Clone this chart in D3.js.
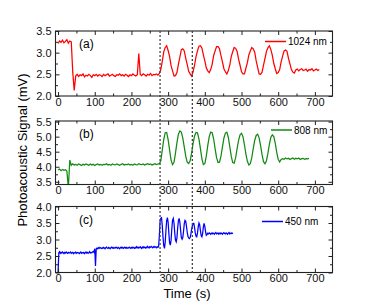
<!DOCTYPE html>
<html>
<head>
<meta charset="utf-8">
<script src="https://cdn.jsdelivr.net/npm/d3@7"></script>
<style>
body { margin: 0; background: #fff; }
svg text { font-family: Arial, "Liberation Sans", sans-serif; }
</style>
</head>
<body>
<div id="chart"></div>
<script>
// signals, one value every `step` seconds starting at t = 0
var sig1024 = [
  3.21, 3.27, 3.24, 3.29, 3.23, 3.26, 3.30, 3.22, 3.27, 3.25,   // 0
  2.55, 2.13, 2.46, 2.50, 2.45, 2.49, 2.47, 2.51, 2.44, 2.48,   // 40
  2.46, 2.50, 2.47, 2.43, 2.49, 2.47, 2.50, 2.46, 2.49, 2.48,   // 80
  2.45, 2.50, 2.47, 2.49, 2.51, 2.46, 2.48, 2.50, 2.47, 2.45,   // 120
  2.49, 2.48, 2.51, 2.47, 2.49, 2.46, 2.50, 2.48, 2.45, 2.49,   // 160
  2.47, 2.51, 2.48, 2.46, 2.49, 2.98, 2.50, 2.47, 2.51, 2.49,   // 200
  2.46, 2.50, 2.48, 2.52, 2.47, 2.50, 2.49, 2.51, 2.48, 2.52,   // 240
  2.61, 2.80, 3.02, 3.12, 3.16, 3.05, 2.91, 2.70, 2.58, 2.46,   // 280
  2.47, 2.54, 2.73, 2.90, 3.07, 3.09, 3.04, 2.87, 2.73, 2.57,   // 320
  2.51, 2.46, 2.56, 2.71, 2.91, 3.04, 3.15, 3.16, 3.11, 2.95,   // 360
  2.81, 2.65, 2.58, 2.54, 2.61, 2.73, 2.93, 3.04, 3.14, 3.14,   // 400
  3.09, 2.93, 2.79, 2.63, 2.56, 2.51, 2.59, 2.71, 2.91, 3.02,   // 440
  3.12, 3.10, 3.03, 2.85, 2.71, 2.56, 2.51, 2.51, 2.64, 2.77,   // 480
  2.95, 3.04, 3.12, 3.09, 3.01, 2.81, 2.66, 2.51, 2.50, 2.55,   // 520
  2.71, 2.87, 3.03, 3.11, 3.16, 3.07, 2.94, 2.75, 2.63, 2.52,   // 560
  2.54, 2.61, 2.79, 2.92, 3.04, 3.06, 3.03, 2.87, 2.74, 2.61,   // 600
  2.55, 2.53, 2.60, 2.62, 2.58, 2.61, 2.63, 2.59, 2.60, 2.62,   // 640
  2.57, 2.61, 2.60, 2.63, 2.58, 2.60, 2.62, 2.59, 2.61          // 680
];
var sig808 = [
  3.89, 3.92, 3.87, 3.91, 3.88, 3.90, 3.86, 3.30, 4.22, 4.05,   // 0
  4.10, 4.06, 4.08, 4.05, 4.09, 4.07, 4.04, 4.08, 4.06, 4.09,   // 40
  4.07, 4.05, 4.09, 4.06, 4.08, 4.04, 4.07, 4.09, 4.06, 4.08,   // 80
  4.05, 4.08, 4.07, 4.10, 4.06, 4.08, 4.05, 4.09, 4.07, 4.06,   // 120
  4.09, 4.07, 4.05, 4.08, 4.10, 4.06, 4.08, 4.07, 4.09, 4.06,   // 160
  4.08, 4.05, 4.09, 4.07, 4.06, 4.10, 4.08, 4.07, 4.09, 4.06,   // 200
  4.08, 4.10, 4.07, 4.09, 4.06, 4.08, 4.10, 4.07, 4.09, 4.10,   // 240
  4.20, 4.55, 4.90, 5.13, 5.14, 4.90, 4.55, 4.22, 4.07, 4.15,   // 280
  4.45, 4.80, 5.08, 5.19, 5.15, 4.95, 4.65, 4.35, 4.15, 4.11,   // 320
  4.20, 4.45, 4.78, 5.02, 5.14, 5.13, 4.92, 4.60, 4.27, 4.07,   // 360
  4.10, 4.35, 4.70, 5.00, 5.15, 5.13, 4.93, 4.60, 4.30, 4.14,   // 400
  4.15, 4.35, 4.65, 4.95, 5.12, 5.15, 4.98, 4.67, 4.35, 4.14,   // 440
  4.12, 4.30, 4.60, 4.88, 5.06, 5.11, 5.00, 4.73, 4.42, 4.18,   // 480
  4.06, 4.10, 4.30, 4.60, 4.88, 5.04, 5.08, 4.96, 4.70, 4.40,   // 520
  4.17, 4.10, 4.20, 4.45, 4.75, 4.98, 5.06, 5.00, 4.78, 4.48,   // 560
  4.25, 4.16, 4.24, 4.27, 4.25, 4.29, 4.26, 4.28, 4.24, 4.27,   // 600
  4.29, 4.25, 4.28, 4.26, 4.29, 4.24, 4.27, 4.28, 4.25, 4.27,   // 640
  4.26, 4.28                                                    // 680
];
var sig450 = [
  2.00, 2.60, 2.63, 2.58, 2.61, 2.59, 2.62, 2.60, 2.57, 2.61,   // 0
  2.59, 2.62, 2.60, 2.58, 2.61, 2.59, 2.60, 2.62, 2.58, 2.60,   // 20
  2.61, 2.57, 2.60, 2.59, 2.62, 2.58, 2.60, 2.61, 2.59, 2.57,   // 40
  2.60, 2.62, 2.58, 2.60, 2.59, 2.61, 2.57, 2.60, 2.62, 2.59,   // 60
  2.61, 2.58, 2.60, 2.63, 2.59, 2.61, 2.60, 2.62, 2.64, 2.61,   // 80
  2.72, 2.20, 2.71, 2.74, 2.72, 2.75, 2.73, 2.76, 2.74, 2.73,   // 100
  2.75, 2.73, 2.76, 2.74, 2.72, 2.75, 2.77, 2.74, 2.73, 2.76,   // 120
  2.74, 2.72, 2.75, 2.77, 2.74, 2.76, 2.73, 2.75, 2.74, 2.77,   // 140
  2.75, 2.73, 2.76, 2.74, 2.72, 2.75, 2.77, 2.74, 2.76, 2.73,   // 160
  2.75, 2.77, 2.74, 2.76, 2.73, 2.75, 2.74, 2.77, 2.75, 2.73,   // 180
  2.76, 2.74, 2.77, 2.75, 2.73, 2.76, 2.74, 2.78, 2.75, 2.77,   // 200
  2.74, 2.76, 2.78, 2.75, 2.73, 2.77, 2.75, 2.78, 2.76, 2.74,   // 220
  2.77, 2.75, 2.79, 2.76, 2.74, 2.78, 2.76, 2.79, 2.77, 2.75,   // 240
  2.78, 2.76, 2.79, 2.77, 2.75, 2.78, 2.76, 2.79, 3.10, 3.55,   // 260
  3.64, 3.66, 3.42, 3.08, 2.82, 2.73, 2.92, 3.28, 3.57, 3.66,   // 280
  3.52, 3.18, 2.90, 2.83, 2.98, 3.32, 3.58, 3.64, 3.50, 3.20,   // 300
  2.98, 2.93, 3.05, 3.35, 3.57, 3.64, 3.52, 3.28, 3.06, 3.01,   // 320
  3.06, 3.25, 3.48, 3.58, 3.55, 3.40, 3.22, 3.10, 3.05, 3.03,   // 340
  3.06, 3.16, 3.30, 3.42, 3.49, 3.49, 3.36, 3.20, 3.10, 3.08,   // 360
  3.20, 3.38, 3.50, 3.44, 3.27, 3.12, 3.08, 3.18, 3.38, 3.49,   // 380
  3.40, 3.24, 3.13, 3.15, 3.19, 3.17, 3.20, 3.18, 3.16, 3.19,   // 400
  3.17, 3.20, 3.18, 3.16, 3.19, 3.21, 3.17, 3.18, 3.20, 3.16,   // 420
  3.19, 3.17, 3.20, 3.18, 3.16, 3.19, 3.21, 3.18, 3.17, 3.20,   // 440
  3.18, 3.16, 3.19, 3.21, 3.17, 3.19, 3.18, 3.20, 3.17          // 460
];

var xTicks = [0, 100, 200, 300, 400, 500, 600, 700];
var xMinor = [50, 150, 250, 350, 450, 550, 650];
var markTimes = [278, 366];   // dotted guide lines

var width = 370, height = 307;
var left = 55.5, right = 332.5;

var svg = d3.select("#chart")
    .append("svg")
    .attr("width", width)
    .attr("height", height);

var x = d3.scaleLinear().domain([-7, 748]).range([left, right]);

var panels = [
  { tag: "(a)", name: "1024 nm", color: "#ff0000", values: sig1024, step: 4,
    top: 31, bottom: 96, domain: [2, 3.5], lx: 265, ly: 41.5 },
  { tag: "(b)", name: "808 nm", color: "#138a13", values: sig808, step: 4,
    top: 121, bottom: 184.5, domain: [3.41, 5.52], lx: 271, ly: 130 },
  { tag: "(c)", name: "450 nm", color: "#0000ff", values: sig450, step: 2,
    top: 206.5, bottom: 272.5, domain: [2, 4], lx: 262, ly: 221.5 }
];

var fmt = d3.format(".1f");

panels.forEach(function(p, i) {
  var y = d3.scaleLinear().domain(p.domain).range([p.bottom, p.top]);
  var yMajor = d3.range(Math.ceil(p.domain[0] * 2) / 2, p.domain[1] + 0.001, 0.5);
  var yMinor = d3.range(Math.ceil(p.domain[0] * 4) / 4, p.domain[1] + 0.001, 0.25)
      .filter(function(v) { return Math.abs(v * 2 - Math.round(v * 2)) > 0.01; });

  var g = svg.append("g");

  g.append("clipPath").attr("id", "clip" + i)
    .append("rect")
    .attr("x", left).attr("y", p.top)
    .attr("width", right - left).attr("height", p.bottom - p.top);

  var line = d3.line()
    .x(function(d, k) { return x(k * p.step); })
    .y(function(d) { return y(d); });

  g.append("path")
    .datum(p.values)
    .attr("clip-path", "url(#clip" + i + ")")
    .attr("fill", "none")
    .attr("stroke", p.color)
    .attr("stroke-width", 1.25)
    .attr("d", line);

  // ticks on all four sides, pointing inward
  function addAxis(axis, tx, ty, labels) {
    var a = g.append("g").attr("transform", "translate(" + tx + "," + ty + ")").call(axis);
    a.select(".domain").remove();
    a.selectAll("line").attr("stroke", "#222");
    if (!labels) a.selectAll("text").remove();
    else a.selectAll("text").attr("font-size", 11).attr("fill", "#111");
    return a;
  }
  addAxis(d3.axisBottom(x).tickValues(xTicks).tickSize(-4).tickPadding(2).tickFormat(d3.format("d")), 0, p.bottom, true);
  addAxis(d3.axisBottom(x).tickValues(xMinor).tickSize(-2.5), 0, p.bottom, false);
  addAxis(d3.axisTop(x).tickValues(xTicks).tickSize(-4), 0, p.top, false);
  addAxis(d3.axisTop(x).tickValues(xMinor).tickSize(-2.5), 0, p.top, false);
  addAxis(d3.axisLeft(y).tickValues(yMajor).tickSize(-4).tickPadding(4).tickFormat(fmt), left, 0, true);
  addAxis(d3.axisLeft(y).tickValues(yMinor).tickSize(-2.5), left, 0, false);
  addAxis(d3.axisRight(y).tickValues(yMajor).tickSize(-4), right, 0, false);
  addAxis(d3.axisRight(y).tickValues(yMinor).tickSize(-2.5), right, 0, false);

  g.append("rect")
    .attr("x", left).attr("y", p.top)
    .attr("width", right - left).attr("height", p.bottom - p.top)
    .attr("fill", "none")
    .attr("stroke", "#222")
    .attr("stroke-width", 1.1);

  g.append("text")
    .attr("x", 79).attr("y", p.top + 17)
    .attr("font-size", 12)
    .text(p.tag);

  // legend
  g.append("line")
    .attr("x1", p.lx).attr("x2", p.lx + 21)
    .attr("y1", p.ly).attr("y2", p.ly)
    .attr("stroke", p.color)
    .attr("stroke-width", 1.5);
  g.append("text")
    .attr("x", p.lx + 23).attr("y", p.ly + 3.5)
    .attr("font-size", 10)
    .text(p.name);
});

svg.selectAll(".mark")
  .data(markTimes)
  .enter().append("line")
  .attr("class", "mark")
  .attr("x1", function(d) { return x(d); })
  .attr("x2", function(d) { return x(d); })
  .attr("y1", 31).attr("y2", 273)
  .attr("stroke", "#444")
  .attr("stroke-width", 1.3)
  .attr("stroke-dasharray", "2,2");

svg.append("text")
  .attr("transform", "translate(27,150) rotate(-90)")
  .attr("text-anchor", "middle")
  .attr("font-size", 13)
  .text("Photoacoustic Signal (mV)");

svg.append("text")
  .attr("x", 187).attr("y", 298)
  .attr("text-anchor", "middle")
  .attr("font-size", 13)
  .text("Time (s)");
</script>
</body>
</html>
